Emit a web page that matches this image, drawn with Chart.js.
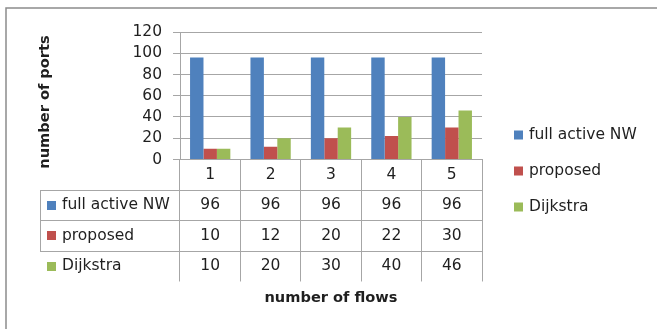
<!DOCTYPE html>
<html>
<head>
<meta charset="utf-8">
<script src="https://cdn.jsdelivr.net/npm/chart.js@4/dist/chart.umd.min.js"></script>
<style>
  html, body { margin: 0; padding: 0; background: #ffffff; }
  #wrap { width: 657px; height: 329px; position: relative; }
</style>
</head>
<body>
<div id="wrap"><canvas id="chart" width="657" height="329"></canvas></div>
<script>
// Number of flows on the x axis
const flows = ['1', '2', '3', '4', '5'];
// Series names
const seriesNames = ['full active NW', 'proposed', 'Dijkstra'];
// Number of ports per series
const fullActiveNW = [96, 96, 96, 96, 96];
const proposed = [10, 12, 20, 22, 30];
const dijkstra = [10, 20, 30, 40, 46];
// Value axis ticks
const yTicks = [0, 20, 40, 60, 80, 100, 120];
const seriesColors = ['#4F81BD', '#C0504D', '#9BBB59'];

const FONT = '"DejaVu Sans", "Open Sans", sans-serif';
const FONT_SIZE = 15.5;
const TITLE_SIZE = 14.6;
const TEXT = '#1f1f1f';
const LINE = '#a6a6a6';

// Frame, data table under the plot, legend and value axis title
const tablePlugin = {
  id: 'dataTable',
  beforeDraw(chart) {
    const ctx = chart.ctx;
    ctx.save();
    ctx.strokeStyle = '#8c8c8c';
    ctx.lineWidth = 1.5;
    ctx.beginPath();
    ctx.moveTo(6, 329);
    ctx.lineTo(6, 8);
    ctx.lineTo(657, 8);
    ctx.stroke();
    ctx.restore();
  },
  afterDraw(chart) {
    const ctx = chart.ctx;
    const xs = chart.scales.x;
    const area = chart.chartArea;
    const rows = chart.data.datasets;
    const rowH = 30.5;
    const top = area.bottom;
    const labelLeft = 40;
    ctx.save();

    // horizontal table lines
    ctx.strokeStyle = LINE;
    ctx.lineWidth = 1;
    ctx.beginPath();
    for (let r = 1; r <= rows.length; r++) {
      const y = Math.round(top + r * rowH) + 0.5;
      ctx.moveTo(labelLeft, y);
      ctx.lineTo(area.right, y);
    }
    ctx.moveTo(labelLeft + 0.5, Math.round(top + rowH) + 0.5);
    ctx.lineTo(labelLeft + 0.5, Math.round(top + rows.length * rowH) + 0.5);
    ctx.stroke();

    ctx.fillStyle = TEXT;
    ctx.font = FONT_SIZE + 'px ' + FONT;
    ctx.textBaseline = 'middle';
    ctx.textAlign = 'center';
    // header row with category labels
    flows.forEach((f, i) => {
      ctx.fillText(f, xs.getPixelForValue(i), top + rowH / 2);
    });
    // value rows
    rows.forEach((ds, r) => {
      const cy = top + (r + 1) * rowH + rowH / 2;
      ds.data.forEach((v, i) => {
        ctx.fillStyle = TEXT;
        ctx.textAlign = 'center';
        ctx.fillText(String(v), xs.getPixelForValue(i), cy);
      });
      ctx.fillStyle = ds.backgroundColor;
      ctx.fillRect(47, Math.round(cy - 4.5), 9, 9);
      ctx.fillStyle = TEXT;
      ctx.textAlign = 'left';
      ctx.fillText(ds.label, 62, cy);
    });

    // legend
    const legendY = [135, 171, 207];
    rows.forEach((ds, r) => {
      ctx.fillStyle = ds.backgroundColor;
      ctx.fillRect(514, legendY[r] - 4.5, 9, 9);
      ctx.fillStyle = TEXT;
      ctx.textAlign = 'left';
      ctx.fillText(ds.label, 529, legendY[r]);
    });

    // value axis title
    ctx.font = 'bold ' + TITLE_SIZE + 'px ' + FONT;
    ctx.translate(45, 102);
    ctx.rotate(-Math.PI / 2);
    ctx.textAlign = 'center';
    ctx.fillText('number of ports', 0, 0);
    ctx.restore();
  }
};

new Chart(document.getElementById('chart'), {
  type: 'bar',
  data: {
    labels: flows,
    datasets: [
      { label: seriesNames[0], data: fullActiveNW, backgroundColor: seriesColors[0] },
      { label: seriesNames[1], data: proposed, backgroundColor: seriesColors[1] },
      { label: seriesNames[2], data: dijkstra, backgroundColor: seriesColors[2] }
    ]
  },
  options: {
    responsive: false,
    animation: false,
    devicePixelRatio: 1,
    layout: { padding: { left: 30, right: 175, top: 32, bottom: 22 } },
    datasets: { bar: { categoryPercentage: 0.667, barPercentage: 1.0 } },
    plugins: {
      legend: { display: false },
      tooltip: { enabled: false },
      title: { display: false }
    },
    scales: {
      x: {
        grid: {
          display: true,
          offset: true,
          drawOnChartArea: false,
          drawTicks: true,
          tickLength: 122,
          color: LINE,
          lineWidth: 1
        },
        border: { display: true, color: LINE, width: 1 },
        ticks: { display: false },
        title: {
          display: true,
          text: 'number of flows',
          color: TEXT,
          font: { family: FONT, size: TITLE_SIZE, weight: 'bold', lineHeight: 1.2 },
          padding: { top: 8, bottom: 0 }
        }
      },
      y: {
        min: 0,
        max: 120,
        afterBuildTicks(scale) { scale.ticks = yTicks.map(v => ({ value: v })); },
        afterFit(scale) { scale.width = 150; },
        grid: { color: LINE, lineWidth: 1, tickLength: 7, drawTicks: true },
        border: { display: true, color: LINE, width: 1 },
        ticks: {
          color: TEXT,
          padding: 11,
          autoSkip: false,
          font: { family: FONT, size: FONT_SIZE }
        }
      }
    }
  },
  plugins: [tablePlugin]
});
</script>
</body>
</html>
